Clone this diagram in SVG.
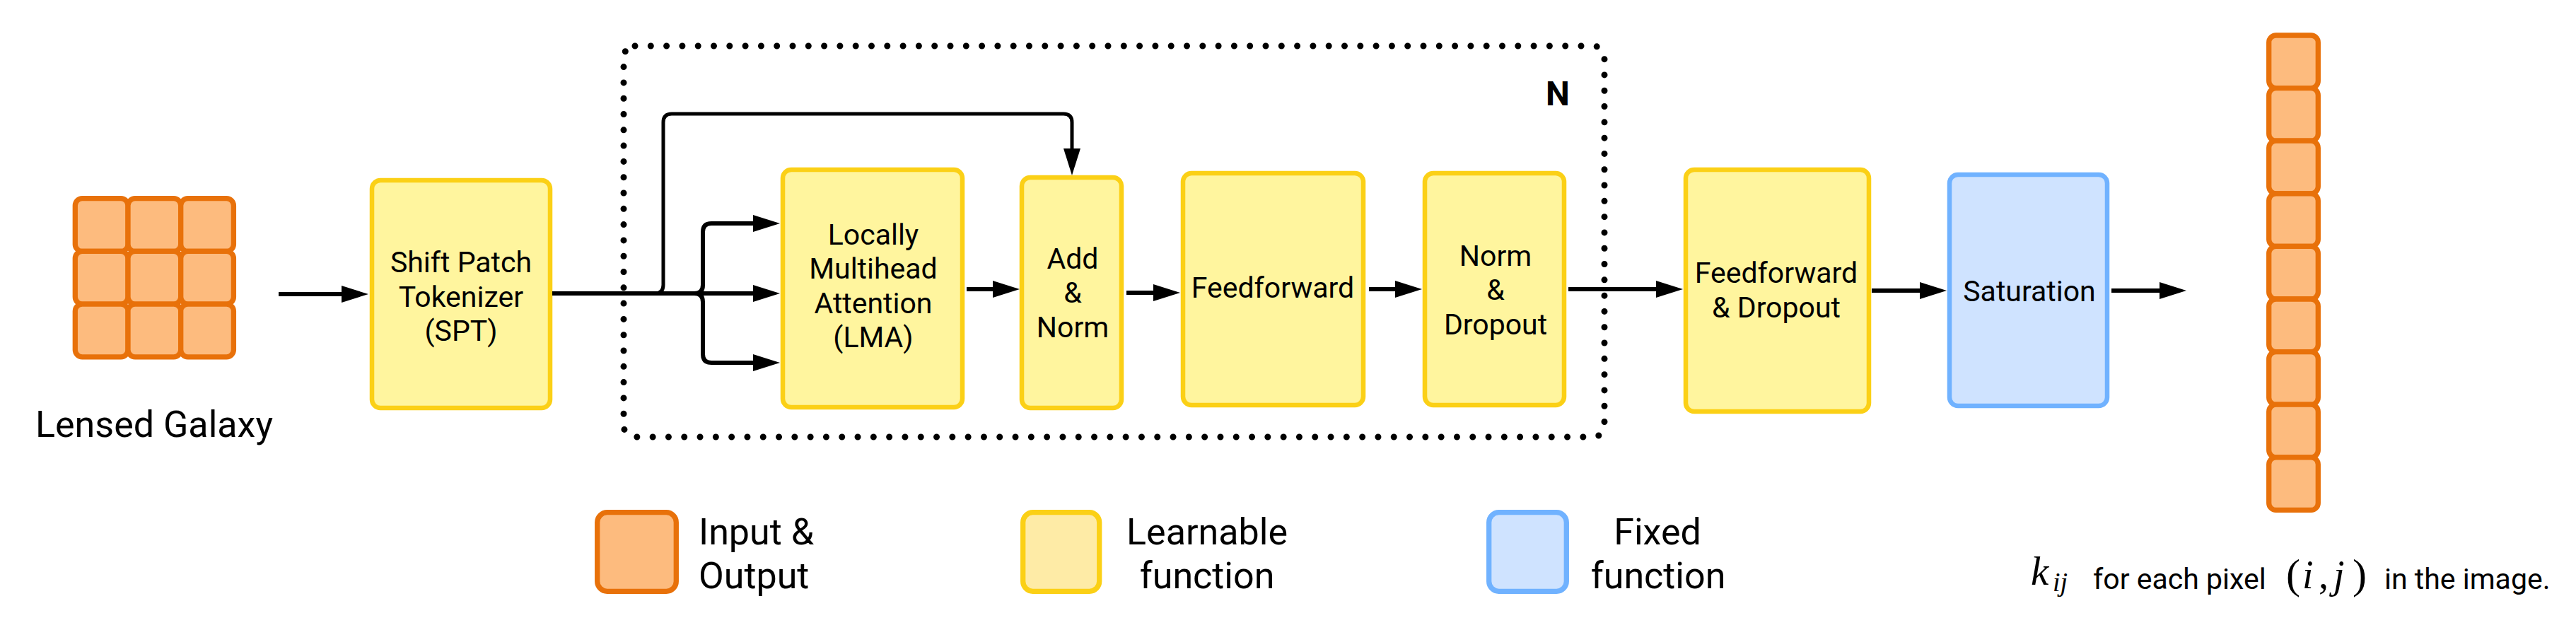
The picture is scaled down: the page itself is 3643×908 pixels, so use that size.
<svg xmlns="http://www.w3.org/2000/svg" width="3643" height="908" viewBox="0 0 3643 908">
<style>
.bg{fill:#ffffff}
.io{fill:#FDBB7E;stroke:#E8710A;stroke-width:7.3}
.lf{fill:#FFF59E;stroke:#FBD016;stroke-width:6.5}
.fx{fill:#CFE3FF;stroke:#70B2FF;stroke-width:6.5}
.lgy{fill:#FEEBA6;stroke:#FBD016;stroke-width:7.3}
.lgb{fill:#CFE3FF;stroke:#70B2FF;stroke-width:7.3}
.lgo{fill:#FDBB7E;stroke:#E8710A;stroke-width:7.3}
.t{font-family:Roboto,"Liberation Sans",sans-serif;font-size:41px;fill:#000;text-anchor:middle}
.lg{font-family:Roboto,"Liberation Sans",sans-serif;font-size:52px;fill:#000}
.cap{font-family:Roboto,"Liberation Sans",sans-serif;font-size:41px;fill:#000}
.nb{font-family:Roboto,"Liberation Sans",sans-serif;font-size:48px;font-weight:bold;fill:#000;text-anchor:middle}
.m{font-family:"Liberation Serif","DejaVu Serif",serif;fill:#000}
.c{fill:none;stroke:#000;stroke-width:6}
.cs{fill:none;stroke:#000;stroke-width:5}
.dot{fill:none;stroke:#000;stroke-width:9;stroke-linecap:round;stroke-dasharray:0 22.3}
</style>
<defs>
<marker id="ah" markerUnits="userSpaceOnUse" markerWidth="38" markerHeight="24" viewBox="0 0 38 24" refX="2" refY="12" orient="auto">
<path d="M0,0 L38,12 L0,24 z" fill="#000"/>
</marker>
</defs>
<rect class="bg" x="0" y="0" width="3643" height="908"/>

<g id="block-N">
<rect class="dot" x="882" y="65" width="1387" height="553" rx="16"/>
<text class="nb" x="2203" y="149">N</text>
</g>

<g id="input">
<rect class="io" x="106.3" y="280.7" width="74.7" height="74.7" rx="10"/>
<rect class="io" x="181" y="280.7" width="74.7" height="74.7" rx="10"/>
<rect class="io" x="255.7" y="280.7" width="74.7" height="74.7" rx="10"/>
<rect class="io" x="106.3" y="355.4" width="74.7" height="74.7" rx="10"/>
<rect class="io" x="181" y="355.4" width="74.7" height="74.7" rx="10"/>
<rect class="io" x="255.7" y="355.4" width="74.7" height="74.7" rx="10"/>
<rect class="io" x="106.3" y="430.1" width="74.7" height="74.7" rx="10"/>
<rect class="io" x="181" y="430.1" width="74.7" height="74.7" rx="10"/>
<rect class="io" x="255.7" y="430.1" width="74.7" height="74.7" rx="10"/>
<text class="lg" x="218" y="618" text-anchor="middle">Lensed Galaxy</text>
</g>

<g id="spt">
<rect class="lf" x="526" y="255" width="252" height="322" rx="12"/>
<text class="t" x="652" y="385">Shift Patch</text>
<text class="t" x="652" y="434">Tokenizer</text>
<text class="t" x="652" y="482">(SPT)</text>
</g>

<g id="lma">
<rect class="lf" x="1107" y="240" width="254" height="336" rx="12"/>
<text class="t" x="1235" y="346">Locally</text>
<text class="t" x="1235" y="394">Multihead</text>
<text class="t" x="1235" y="443">Attention</text>
<text class="t" x="1235" y="491">(LMA)</text>
</g>

<g id="addnorm">
<rect class="lf" x="1445" y="251" width="141" height="326" rx="12"/>
<text class="t" x="1517" y="380">Add</text>
<text class="t" x="1517" y="428">&amp;</text>
<text class="t" x="1517" y="477">Norm</text>
</g>

<g id="feedforward">
<rect class="lf" x="1673" y="245" width="255" height="328" rx="12"/>
<text class="t" x="1800" y="421">Feedforward</text>
</g>

<g id="normdropout">
<rect class="lf" x="2015" y="245" width="197" height="328" rx="12"/>
<text class="t" x="2115" y="376">Norm</text>
<text class="t" x="2115" y="424">&amp;</text>
<text class="t" x="2115" y="473">Dropout</text>
</g>

<g id="ffdropout">
<rect class="lf" x="2384" y="240" width="259" height="342" rx="12"/>
<text class="t" x="2512" y="400">Feedforward</text>
<text class="t" x="2512" y="449">&amp; Dropout</text>
</g>

<g id="saturation">
<rect class="fx" x="2757" y="247" width="223" height="327" rx="12"/>
<text class="t" x="2870" y="426">Saturation</text>
</g>

<g id="output">
<rect class="io" x="3208.7" y="50" width="69.6" height="74.6" rx="10"/>
<rect class="io" x="3208.7" y="124.6" width="69.6" height="74.6" rx="10"/>
<rect class="io" x="3208.7" y="199.2" width="69.6" height="74.6" rx="10"/>
<rect class="io" x="3208.7" y="273.8" width="69.6" height="74.6" rx="10"/>
<rect class="io" x="3208.7" y="348.4" width="69.6" height="74.6" rx="10"/>
<rect class="io" x="3208.7" y="423" width="69.6" height="74.6" rx="10"/>
<rect class="io" x="3208.7" y="497.6" width="69.6" height="74.6" rx="10"/>
<rect class="io" x="3208.7" y="572.2" width="69.6" height="74.6" rx="10"/>
<rect class="io" x="3208.7" y="646.8" width="69.6" height="74.6" rx="10"/>
</g>

<g id="caption">
<text class="m" x="2872" y="827" font-size="57" font-style="italic">k</text>
<text class="m" x="2903" y="836" font-size="38" font-style="italic">ij</text>
<text class="cap" x="2960" y="833">for each pixel</text>
<text class="m" x="3233" y="832" font-size="60">(</text>
<text class="m" x="3256" y="832" font-size="56" font-style="italic">i</text>
<text class="m" x="3279" y="832" font-size="56">,</text>
<text class="m" x="3300" y="832" font-size="56" font-style="italic">j</text>
<text class="m" x="3327" y="832" font-size="60">)</text>
<text class="cap" x="3372" y="833">in the image.</text>
</g>

<g id="legend-io">
<rect class="lgo" x="844.7" y="724.7" width="111.6" height="111.6" rx="14"/>
<text class="lg" x="988" y="770">Input &amp;</text>
<text class="lg" x="988" y="832">Output</text>
</g>
<g id="legend-learnable">
<rect class="lgy" x="1446.7" y="724.7" width="108" height="111.6" rx="14"/>
<text class="lg" x="1707" y="770" text-anchor="middle">Learnable</text>
<text class="lg" x="1707" y="832" text-anchor="middle">function</text>
</g>
<g id="legend-fixed">
<rect class="lgb" x="2105.7" y="724.7" width="109.6" height="111.6" rx="14"/>
<text class="lg" x="2344" y="770" text-anchor="middle">Fixed</text>
<text class="lg" x="2345" y="832" text-anchor="middle">function</text>
</g>

<g id="connectors">
<path class="c" d="M394,416 H485" marker-end="url(#ah)"/>
<path class="c" d="M781,415 H1067" marker-end="url(#ah)"/>
<path class="c" d="M982,415 Q994,415 994,403 V328 Q994,316 1006,316 H1067" marker-end="url(#ah)"/>
<path class="c" d="M982,415 Q994,415 994,427 V501 Q994,513 1006,513 H1067" marker-end="url(#ah)"/>
<path class="cs" d="M926,415 Q938,415 938,403 V173 Q938,161 950,161 H1504 Q1516,161 1516,173 V212" marker-end="url(#ah)"/>
<path class="c" d="M1367,409 H1406" marker-end="url(#ah)"/>
<path class="c" d="M1593,414 H1633" marker-end="url(#ah)"/>
<path class="c" d="M1936,409 H1975" marker-end="url(#ah)"/>
<path class="c" d="M2218,409 H2344" marker-end="url(#ah)"/>
<path class="c" d="M2647,411 H2717" marker-end="url(#ah)"/>
<path class="c" d="M2986,411 H3056" marker-end="url(#ah)"/>
</g>
</svg>
